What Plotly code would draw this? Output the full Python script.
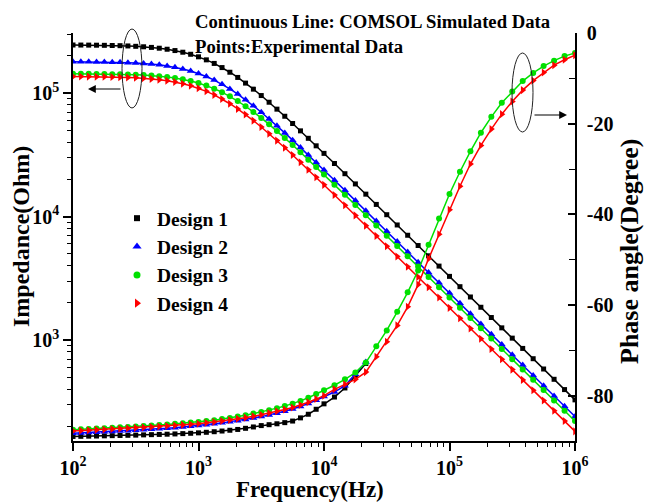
import plotly.graph_objects as go

# ---------------- data ----------------
freq = [100, 115.5, 133.4, 154.0, 177.8, 205.4, 237.1, 273.8, 316.2, 365.2, 421.7, 487.0,
        562.3, 649.4, 749.9, 866.0, 1000, 1155, 1334, 1540, 1778, 2054, 2371, 2738, 3162,
        3652, 4217, 4870, 5623, 6494, 7499, 8660, 10000, 12115, 14678, 17783, 21544, 26102,
        31623, 38312, 46416, 56234, 68129, 82540, 100000, 121153, 146780, 177828, 215443,
        261016, 316228, 383119, 464159, 562341, 681292, 825404, 1000000]

designs = ["Design 1", "Design 2", "Design 3", "Design 4"]

imp1 = [244800, 244600, 244300, 243900, 243300, 242600, 241700, 240500, 238900, 236800, 234100,
        230600, 226200, 220700, 214000, 205900, 196400, 185600, 173600, 160700, 147300, 133700,
        120300, 107500, 95390, 84210, 74020, 64840, 56650, 49380, 42980, 37360, 32450, 26860,
        22210, 18360, 15170, 12530, 10340, 8540, 7050, 5820, 4805, 3966, 3274, 2702, 2230, 1841,
        1520, 1254, 1035, 854.5, 705.3, 582.2, 480.5, 396.6, 327.4]
imp2 = [179400, 179200, 179000, 178700, 178300, 177800, 177100, 176200, 175000, 173500, 171500,
        169000, 165800, 161700, 156800, 150900, 143900, 136000, 127200, 117800, 107900, 97980,
        88180, 78760, 69900, 61710, 54240, 47520, 41510, 36190, 31500, 27380, 23780, 19680,
        16280, 13450, 11110, 9180, 7580, 6260, 5170, 4265, 3521, 2906, 2399, 1980, 1634, 1349,
        1114, 919.1, 758.6, 626.2, 516.8, 426.6, 352.2, 290.6, 239.9]
imp3 = [143200, 143100, 143000, 142800, 142600, 142200, 141800, 141300, 140600, 139600, 138400,
        136800, 134800, 132200, 129000, 125100, 120400, 114800, 108500, 101500, 93940, 86090,
        78150, 70340, 62830, 55760, 49220, 43270, 37900, 33110, 28870, 25120, 21840, 18090,
        14970, 12380, 10230, 8451, 6980, 5763, 4758, 3929, 3244, 2677, 2210, 1824, 1505, 1243,
        1026, 846.6, 698.8, 576.8, 476.1, 392.9, 324.3, 267.7, 221.0]
imp4 = [136100, 136000, 135800, 135600, 135300, 134900, 134400, 133700, 132800, 131700, 130100,
        128200, 125800, 122700, 119000, 114500, 109200, 103200, 96520, 89360, 81890, 74340,
        66910, 59760, 53040, 46820, 41160, 36050, 31500, 27460, 23900, 20780, 18040, 14930,
        12350, 10210, 8433, 6965, 5751, 4748, 3920, 3237, 2672, 2205, 1820, 1502, 1240, 1024,
        844.9, 697.4, 575.6, 475.1, 392.2, 323.7, 267.2, 220.5, 182.0]

# phase of designs 1 and 2 is only visible up to ~2e4 Hz (hidden under design 3 afterwards)
ph1 = [-89.0, -88.97, -88.93, -88.9, -88.86, -88.82, -88.78, -88.74, -88.7, -88.65, -88.6,
       -88.55, -88.5, -88.44, -88.37, -88.3, -88.2, -88.08, -87.95, -87.8, -87.63, -87.45,
       -87.2, -86.9, -86.6, -86.4, -86.2, -85.95, -85.6, -84.9, -84.1, -83.0, -81.8, -80.3,
       -78.3, -75.6, -72.9]
ph2 = [-88.3, -88.22, -88.14, -88.06, -87.98, -87.9, -87.81, -87.72, -87.63, -87.53, -87.43,
       -87.32, -87.2, -87.07, -86.93, -86.77, -86.6, -86.41, -86.21, -86.0, -85.77, -85.52,
       -85.25, -84.95, -84.62, -84.26, -83.86, -83.42, -82.95, -82.4, -81.75, -81.0, -80.2,
       -79.2, -77.8, -75.3, -72.6]
ph3 = [-87.5, -87.42, -87.33, -87.25, -87.16, -87.07, -86.98, -86.89, -86.8, -86.69, -86.58,
       -86.46, -86.34, -86.21, -86.08, -85.94, -85.8, -85.6, -85.4, -85.15, -84.9, -84.6,
       -84.3, -83.95, -83.6, -83.2, -82.75, -82.3, -81.8, -81.15, -80.45, -79.65, -78.8,
       -77.7, -76.4, -74.9, -72.7, -69.1, -65.6, -61.5, -57.2, -52.4, -46.7, -40.9, -35.5,
       -30.6, -26.1, -22.0, -18.5, -15.4, -12.9, -10.6, -8.8, -7.3, -6.1, -5.1, -4.4]
ph4 = [-87.8, -87.71, -87.63, -87.54, -87.45, -87.36, -87.28, -87.19, -87.1, -87.0, -86.9,
       -86.79, -86.68, -86.57, -86.45, -86.33, -86.2, -86.0, -85.8, -85.58, -85.35, -85.1,
       -84.85, -84.55, -84.2, -83.85, -83.45, -83.05, -82.6, -82.05, -81.45, -80.75, -80.0,
       -78.6, -77.5, -76.4, -74.8, -71.4, -68.1, -64.5, -60.4, -55.5, -49.8, -44.4, -39.0,
       -33.8, -28.9, -24.8, -21.2, -17.9, -15.1, -12.6, -10.5, -8.7, -7.1, -5.9, -4.9]

x_ticks = [1e2, 1e3, 1e4, 1e5, 1e6]
x_ticktext = ["10<sup>2</sup>", "10<sup>3</sup>", "10<sup>4</sup>", "10<sup>5</sup>", "10<sup>6</sup>"]
y_ticks = [1e3, 1e4, 1e5]
y_ticktext = ["10<sup>3</sup>", "10<sup>4</sup>", "10<sup>5</sup>"]
y2_ticks = [0, -20, -40, -60, -80]
y2_ticktext = ["0", "-20", "-40", "-60", "-80"]

# ---------------- styling ----------------
FONT = "Liberation Serif"
colors = ["#000000", "#0000FF", "#00E000", "#FF0000"]
symbols = ["square", "triangle-up", "circle", "triangle-right"]
msizes = [5, 7, 6, 7]

imps = [imp1, imp2, imp3, imp4]
phs = [ph1, ph2, ph3, ph4]

fig = go.Figure()
for i in range(4):
    fig.add_trace(go.Scatter(
        x=freq, y=imps[i], mode="lines+markers", yaxis="y",
        line=dict(color=colors[i], width=1.5),
        marker=dict(symbol=symbols[i], size=msizes[i], color=colors[i]),
        showlegend=False, hoverinfo="skip"))
for i in range(4):
    fig.add_trace(go.Scatter(
        x=freq[:len(phs[i])], y=phs[i], mode="lines+markers", yaxis="y2",
        line=dict(color=colors[i], width=1.5),
        marker=dict(symbol=symbols[i], size=msizes[i], color=colors[i]),
        showlegend=False, hoverinfo="skip"))
# legend entries (points only, as in the reference)
for i in range(4):
    fig.add_trace(go.Scatter(
        x=[None], y=[None], mode="markers", name="<b>%s</b>" % designs[i],
        marker=dict(symbol=symbols[i], size=msizes[i] + 1, color=colors[i])))

# minor tick positions (axis furniture)
x_minor = [m * 10 ** e for e in range(2, 6) for m in range(2, 10)]
y_minor = [m * 10 ** e for e in range(2, 6) for m in range(2, 10) if m * 10 ** e < 3.1e5]

tickfont = dict(family=FONT, size=20, color="black", weight="bold")

fig.update_layout(
    width=647, height=503,
    margin=dict(l=73, r=72, t=33, b=62),
    paper_bgcolor="white", plot_bgcolor="white",
    font=dict(family=FONT, color="black"),
    xaxis=dict(type="log", range=[2, 6], tickvals=x_ticks, ticktext=x_ticktext,
               ticks="outside", ticklen=8, tickwidth=1.5, tickcolor="black",
               showline=True, linewidth=1.5, linecolor="black", showgrid=False,
               zeroline=False, tickfont=tickfont,
               minor=dict(tickvals=x_minor, ticks="outside", ticklen=4, tickwidth=1,
                          tickcolor="black", showgrid=False)),
    yaxis=dict(type="log", range=[2.182, 5.486], tickvals=y_ticks, ticktext=y_ticktext,
               ticks="outside", ticklen=8, tickwidth=1.5, tickcolor="black",
               showline=True, linewidth=1.5, linecolor="black", showgrid=False,
               zeroline=False, tickfont=tickfont,
               minor=dict(tickvals=y_minor, ticks="outside", ticklen=4, tickwidth=1,
                          tickcolor="black", showgrid=False)),
    yaxis2=dict(overlaying="y", side="right", range=[-90, 0], tickvals=y2_ticks,
                ticktext=y2_ticktext, ticks="inside", ticklen=7, tickwidth=1.5,
                tickcolor="black", showline=True, linewidth=1.5, linecolor="black",
                showgrid=False, zeroline=False, tickfont=tickfont, ticklabelstandoff=6,
                minor=dict(tickvals=[-10, -30, -50, -70], ticks="inside", ticklen=6,
                           tickwidth=1, tickcolor="black", showgrid=False)),
    legend=dict(x=(117 - 73) / 502, y=(441 - 199) / 408, xanchor="left", yanchor="top",
                bgcolor="rgba(0,0,0,0)", font=dict(family=FONT, size=19.5, color="black"),
                tracegroupgap=0),
    showlegend=True,
)

def px_x(p):
    return (p - 73) / 502

def px_y(p):
    return (441 - p) / 408

ann = []
ann.append(dict(xref="paper", yref="paper", x=px_x(193), y=px_y(21), xanchor="left",
                yanchor="middle", showarrow=False,
                text="<b>Continuous Line: COMSOL Simulated Data</b>",
                font=dict(family=FONT, size=18.7, color="black")))
ann.append(dict(xref="paper", yref="paper", x=px_x(193), y=px_y(46), xanchor="left",
                yanchor="middle", showarrow=False,
                text="<b>Points:Experimental Data</b>",
                font=dict(family=FONT, size=18.7, color="black")))
ann.append(dict(xref="paper", yref="paper", x=px_x(21), y=px_y(237), xanchor="center",
                yanchor="middle", showarrow=False, textangle=-90,
                text="<b>Impedance(Ohm)</b>", font=dict(family=FONT, size=24, color="black")))
ann.append(dict(xref="paper", yref="paper", x=px_x(629), y=px_y(251), xanchor="center",
                yanchor="middle", showarrow=False, textangle=-90,
                text="<b>Phase angle(Degree)</b>", font=dict(family=FONT, size=26, color="black")))
ann.append(dict(xref="paper", yref="paper", x=px_x(310), y=px_y(489), xanchor="center",
                yanchor="middle", showarrow=False,
                text="<b>Frequency(Hz)</b>", font=dict(family=FONT, size=23, color="black")))
# arrows from the ellipses to the axes
ann.append(dict(xref="paper", yref="paper", x=px_x(88), y=px_y(89), ax=34, ay=0, text="",
                showarrow=True, arrowhead=2, arrowsize=1.3, arrowwidth=1.2, arrowcolor="black"))
ann.append(dict(xref="paper", yref="paper", x=px_x(567), y=px_y(115), ax=-34, ay=0, text="",
                showarrow=True, arrowhead=2, arrowsize=1.3, arrowwidth=1.2, arrowcolor="black"))
fig.update_layout(annotations=ann)

fig.update_layout(shapes=[
    dict(type="circle", xref="paper", yref="paper", x0=px_x(122), x1=px_x(142),
         y0=px_y(108), y1=px_y(29), line=dict(color="#222", width=1)),
    dict(type="circle", xref="paper", yref="paper", x0=px_x(512), x1=px_x(533),
         y0=px_y(132), y1=px_y(53), line=dict(color="#222", width=1)),
])

fig.write_html("out.html")
